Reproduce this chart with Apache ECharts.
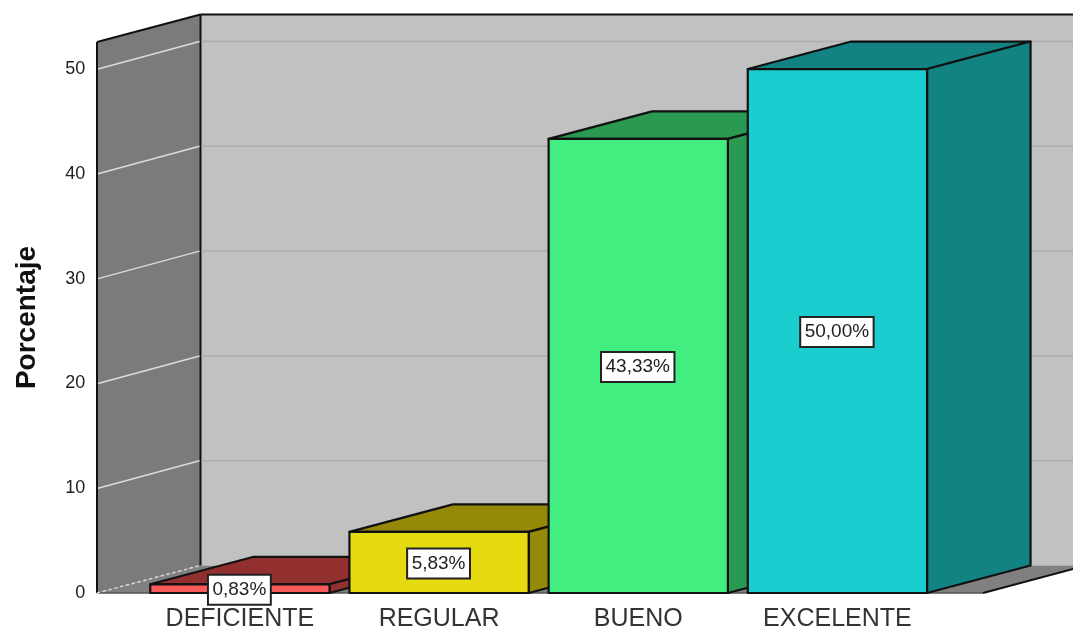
<!DOCTYPE html>
<html>
<head>
<meta charset="utf-8">
<style>html,body{margin:0;padding:0;background:#fff}#c{width:1073px;height:630px}</style>
<script src="https://cdn.jsdelivr.net/npm/echarts@6/dist/echarts.min.js"></script>
</head>
<body>
<div id="c"></div>
<script>
var categories = ['DEFICIENTE', 'REGULAR', 'BUENO', 'EXCELENTE'];
var values = [0.83, 5.83, 43.33, 50.0];
var yTicks = [0, 10, 20, 30, 40, 50];
var frontColors = ['#fb5a5a', '#e6da10', '#42ee80', '#1ccdd0'];
var topColors = ['#922f2f', '#948a08', '#2a9a52', '#128382'];
var yName = 'Porcentaje';

var FONT = '"Liberation Sans", Arial, sans-serif';
var DX = 103.5, DY = 27.5, WALL_LEFT = 97, WALL_RIGHT = 1073, FLOOR_END = 983, BAR_RATIO = 0.9, Y_MAX = 52.58;
var INK = '#111';

function poly(points, fill, stroke, w) {
  return { type: 'polygon', shape: { points: points },
    style: { fill: fill, stroke: stroke || null, lineWidth: w || 0, lineJoin: 'round' } };
}
function line(x1, y1, x2, y2, stroke, w, dash) {
  return { type: 'line', shape: { x1: x1, y1: y1, x2: x2, y2: y2 },
    style: { stroke: stroke, lineWidth: w, lineDash: dash || null, fill: null } };
}

function renderWalls(params, api) {
  var b = api.coord([0, 0])[1], t = api.coord([0, Y_MAX])[1];
  var bx = WALL_LEFT + DX;
  return { type: 'group', children: [
    poly([[bx, t - DY], [WALL_RIGHT + 20, t - DY], [WALL_RIGHT + 20, b - DY], [bx, b - DY]], '#c1c1c1'),
    poly([[WALL_LEFT, b], [bx, b - DY], [FLOOR_END + DX, b - DY], [FLOOR_END, b]], '#808080'),
    poly([[WALL_LEFT, t], [bx, t - DY], [bx, b - DY], [WALL_LEFT, b]], '#7b7b7b'),
    line(WALL_LEFT, t, bx, t - DY, INK, 2),
    line(bx, t - DY, WALL_RIGHT + 5, t - DY, INK, 2),
    line(WALL_LEFT, t, WALL_LEFT, b, INK, 2),
    line(bx, t - DY, bx, b - DY, INK, 2),
    line(WALL_LEFT, b, FLOOR_END, b, '#555', 1.5),
    line(FLOOR_END, b, FLOOR_END + DX, b - DY, INK, 2),
    line(WALL_LEFT, b, bx, b - DY, '#ddd', 1.5, [3, 3])
  ] };
}

function renderGrid(params, api) {
  var y = api.coord([0, api.value(1)])[1];
  var bx = WALL_LEFT + DX;
  var kids = [];
  if (api.value(1) > 0) {
    kids.push(line(WALL_LEFT + 1, y, bx - 1, y - DY, '#dcdcdc', 1.5));
    kids.push(line(bx + 1, y - DY, WALL_RIGHT + 5, y - DY, '#adadad', 1.5));
  }
  return { type: 'group', children: kids };
}

function renderBar(params, api) {
  var i = api.value(0), v = api.value(1);
  var c = api.coord([i, 0]), p = api.coord([i, v]), m = api.coord([i, v / 2]);
  var w = api.size([1, 0])[0] * BAR_RATIO;
  var l = c[0] - w / 2, r = c[0] + w / 2, b = c[1], t = p[1];
  return { type: 'group', children: [
    poly([[l, t], [r, t], [r + DX, t - DY], [l + DX, t - DY]], topColors[i], INK, 2.2),
    poly([[r, t], [r + DX, t - DY], [r + DX, b - DY], [r, b]], topColors[i], INK, 2.2),
    poly([[l, t], [r, t], [r, b], [l, b]], frontColors[i], INK, 2.2),
    { type: 'text', z2: 10, style: {
      x: c[0] - 0.5, y: m[1] + 1, text: v.toFixed(2).replace('.', ',') + '%',
      align: 'center', verticalAlign: 'middle', font: '19px ' + FONT, fill: '#222',
      backgroundColor: '#fff', borderColor: '#222', borderWidth: 2, padding: [5, 3.5, 4, 3.5]
    } }
  ] };
}

var chart = echarts.init(document.getElementById('c'), null, { renderer: 'canvas' });
chart.setOption({
  animation: false,
  backgroundColor: '#fff',
  grid: { left: 140.3, right: 136, top: 42, bottom: 37, containLabel: false, outerBoundsMode: 'none' },
  xAxis: { type: 'category', data: categories, boundaryGap: true,
    axisLine: { show: false }, axisTick: { show: false }, splitLine: { show: false },
    axisLabel: { fontFamily: FONT, fontSize: 25, color: '#333', margin: 14, interval: 0 } },
  yAxis: { type: 'value', min: 0, max: Y_MAX, interval: 10,
    name: yName, nameLocation: 'middle', nameRotate: 90, nameGap: 99,
    nameTextStyle: { fontFamily: FONT, fontSize: 28, fontWeight: 'bold', color: '#111' },
    axisLine: { show: false }, axisTick: { show: false }, splitLine: { show: false },
    axisLabel: { fontFamily: FONT, fontSize: 18, color: '#222', margin: 55, showMaxLabel: false, padding: [5, 0, 0, 0] } },
  series: [
    { type: 'custom', clip: false, silent: true, data: [[0, 0]], encode: { x: 0, y: 1 }, renderItem: renderWalls },
    { type: 'custom', clip: false, silent: true, data: yTicks.map(function (t) { return [0, t]; }), encode: { x: 0, y: 1 }, renderItem: renderGrid },
    { type: 'custom', clip: false, silent: true, data: values.map(function (v, i) { return [i, v]; }), encode: { x: 0, y: 1 }, renderItem: renderBar }
  ]
});
</script>
</body>
</html>
